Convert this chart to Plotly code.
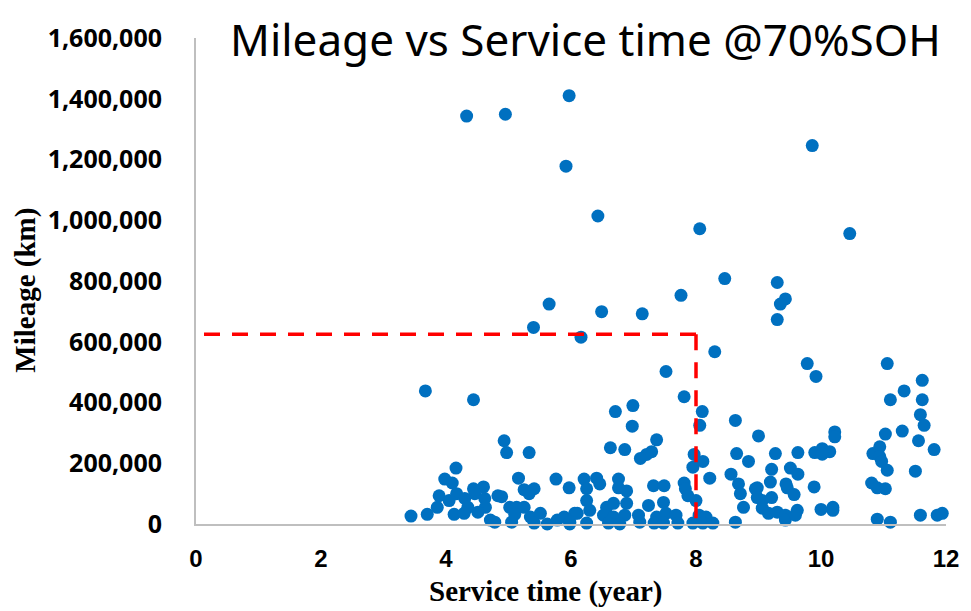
import plotly.graph_objects as go

# Service time (year) and mileage (km)
service_years = [
    4.33, 4.95, 5.97, 5.92, 6.43, 8.06, 8.46, 7.76, 5.65, 6.49, 7.14, 5.40, 6.16, 8.30, 7.52,
    9.86, 10.46, 9.30, 9.43, 9.35, 9.30, 9.78, 11.06,
    3.67, 4.44, 4.93, 4.97, 5.33, 4.16, 3.98, 4.10, 5.16, 5.76, 5.97, 4.60, 4.44, 4.46, 3.89,
    4.17, 5.25, 5.41, 5.33, 4.83, 4.89, 4.62, 4.05, 4.30, 3.86, 4.35, 4.63, 5.02, 5.13, 5.25,
    3.44, 3.70, 4.13, 4.29, 4.51, 4.71, 4.78, 5.05, 5.10, 5.35, 5.51, 5.41, 5.62, 5.78, 5.89,
    5.98, 6.06,
    7.81, 8.10, 8.06, 6.71, 6.99, 6.98, 8.63, 9.00, 7.37, 6.63, 6.86, 7.29, 7.21, 7.11, 7.97,
    8.11, 7.95, 8.65, 8.84, 8.22, 8.56, 8.68, 8.71, 8.76, 8.63, 8.95, 9.06, 6.21, 6.41, 6.46,
    6.25, 6.76, 6.76, 6.89, 7.32, 7.49, 7.81, 7.83, 7.87, 8.00, 6.25, 6.30, 6.57, 6.68, 6.89,
    7.24, 7.48, 6.10, 6.52, 6.68, 6.86, 7.08, 7.37, 7.52, 7.68, 8.05, 8.16, 5.98, 6.25, 6.60,
    6.78, 7.10, 7.33, 7.48, 7.71, 7.95, 8.11, 8.27,
    9.92, 11.62, 11.33, 11.11, 11.62, 11.59, 11.65, 10.22, 10.22, 11.03, 11.30, 11.56, 11.81,
    9.27, 9.63, 9.90, 10.02, 10.14, 10.02, 10.83, 10.94, 10.94, 10.97, 11.06, 11.51, 9.21,
    9.51, 9.63, 9.19, 9.44, 9.46, 9.57, 9.89, 8.98, 8.98, 9.21, 10.81, 10.90, 11.03, 9.06,
    9.16, 9.30, 9.43, 9.43, 9.62, 9.59, 10.00, 10.19, 10.19, 10.90, 11.11, 11.59, 11.86, 11.94,
]
mileage_km = [
    1343000, 1349000, 1410000, 1178000, 1014000, 972000, 808000, 753000, 724000, 699000, 692000, 647000, 615000, 567000, 502000,
    1246000, 956000, 795000, 741000, 724000, 673000, 528000, 528000,
    438000, 409000, 274000, 235000, 235000, 184000, 148000, 135000, 151000, 148000, 119000, 122000, 116000, 100000, 93000,
    100000, 113000, 116000, 100000, 93000, 90000, 84000, 77000, 84000, 55000, 55000, 55000, 55000, 55000, 55000,
    26000, 32000, 32000, 35000, 39000, 13000, 6000, 6000, 32000, 23000, 35000, 3000, 0, 13000, 23000,
    0, 35000,
    419000, 370000, 325000, 370000, 390000, 322000, 341000, 290000, 277000, 251000, 245000, 238000, 229000, 216000, 229000,
    206000, 187000, 232000, 206000, 151000, 164000, 132000, 100000, 55000, 6000, 116000, 77000, 148000, 151000, 132000,
    116000, 148000, 119000, 109000, 126000, 126000, 135000, 116000, 93000, 77000, 77000, 45000, 55000, 68000, 68000,
    61000, 71000, 35000, 29000, 23000, 29000, 29000, 23000, 35000, 29000, 29000, 23000, 6000, 3000, 3000,
    0, 6000, 3000, 3000, 3000, 3000, 3000, 3000,
    486000, 473000, 438000, 409000, 409000, 360000, 325000, 303000, 287000, 296000, 306000, 274000, 245000,
    232000, 235000, 235000, 248000, 238000, 230000, 232000, 254000, 222000, 206000, 177000, 174000, 180000,
    184000, 164000, 138000, 132000, 119000, 97000, 122000, 119000, 87000, 87000, 135000, 119000, 116000, 52000,
    35000, 39000, 29000, 13000, 45000, 29000, 48000, 55000, 45000, 16000, 6000, 29000, 29000, 35000,
]

# 70% SOH reference box (8 years, 625,000 km); the vertical dash runs slightly below the axis
threshold_year = 8
threshold_mileage = 625000
threshold_line_bottom = -45000

x_ticks = [0, 2, 4, 6, 8, 10, 12]
y_ticks = [0, 200000, 400000, 600000, 800000, 1000000, 1200000, 1400000, 1600000]

# page body has an 8px margin; plot area should sit at x 196..952, y 27..524 of the window
BODY = 8
PL, PR, PT, PB = 196, 952, 27, 524
PW, PH = PR - PL, PB - PT


def px(x):
    return (x - PL) / PW


def py(y):
    return (PB - y) / PH


fig = go.Figure()
fig.add_trace(go.Scatter(
    x=service_years, y=mileage_km, mode="markers",
    marker=dict(color="#0070C0", size=13, line=dict(width=0)),
    cliponaxis=False, showlegend=False,
))

dash_line = dict(color="#FF0000", width=3.5, dash="16px,12px")
fig.add_shape(type="line", x0=threshold_year, x1=0, y0=threshold_mileage, y1=threshold_mileage,
              xref="x", yref="y", line=dash_line)
fig.add_shape(type="line", x0=threshold_year, x1=threshold_year, y0=threshold_mileage, y1=threshold_line_bottom,
              xref="x", yref="y", line=dash_line)

fig.update_layout(
    width=971 - BODY, height=611 - BODY,
    margin=dict(l=PL - BODY, r=971 - PR, t=PT - BODY, b=611 - PB),
    plot_bgcolor="white", paper_bgcolor="white",
    xaxis=dict(range=[0, 12], tickvals=x_ticks, showgrid=False, zeroline=False,
               showline=True, linecolor="#BFBFBF", linewidth=2, ticks="", ticklabelstandoff=12,
               tickfont=dict(family="Liberation Sans", size=24, color="black", weight="bold")),
    yaxis=dict(range=[0, 1600000], tickvals=y_ticks, tickformat=",d", showgrid=False, zeroline=False,
               showline=True, linecolor="#BFBFBF", linewidth=2, ticks="", ticklabelstandoff=27,
               tickfont=dict(family="Open Sans", size=25, color="black", weight="bold")),
    annotations=[
        dict(text="Mileage vs Service time @70%SOH", xref="paper", yref="paper",
             x=px(589), y=py(28), xanchor="center", yanchor="middle",
             showarrow=False, font=dict(family="Noto Sans", size=44, color="black")),
        dict(text="Service time (year)", xref="paper", yref="paper",
             x=px(548), y=py(593), xanchor="center", yanchor="middle",
             showarrow=False, font=dict(family="Liberation Serif", size=29, color="black", weight="bold")),
        dict(text="Mileage (km)", xref="paper", yref="paper", textangle=-90,
             x=px(24), y=py(285), xanchor="center", yanchor="middle",
             showarrow=False, font=dict(family="Liberation Serif", size=29, color="black", weight="bold")),
    ],
)

fig.write_html("out.html")
